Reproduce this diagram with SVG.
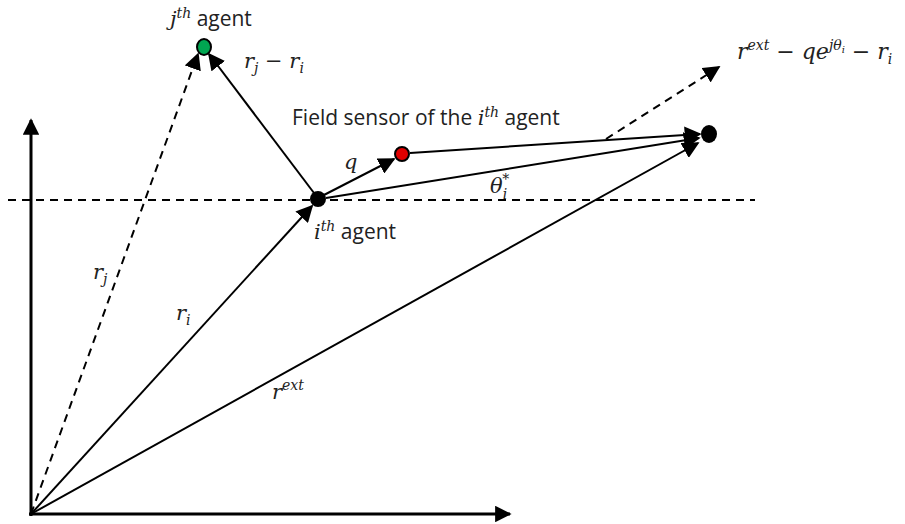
<svg xmlns="http://www.w3.org/2000/svg" width="905" height="524" viewBox="0 0 905 524">
<defs>
<marker id="ah" viewBox="0 0 10 10" refX="9" refY="5" markerWidth="5.5" markerHeight="5.5" markerUnits="strokeWidth" orient="auto">
<path d="M0,0 L10,5 L0,10 z" fill="#000"/>
</marker>
<marker id="ahb" viewBox="0 0 10 10" refX="9" refY="5" markerWidth="8.5" markerHeight="8.5" markerUnits="strokeWidth" orient="auto">
<path d="M0,0 L10,5 L0,10 z" fill="#000"/>
</marker>
</defs>
<style>
.ln{stroke:#000;stroke-width:2;fill:none}
.ax{stroke:#000;stroke-width:3;fill:none}
.da{stroke-dasharray:8,6}
.t{font-family:"Open Sans","Liberation Sans",sans-serif;font-size:21px;fill:#222}
.m{font-family:"DejaVu Serif","Liberation Serif",serif;font-style:italic;font-size:21px;fill:#222}
.s{font-size:14px}
</style>
<rect width="905" height="524" fill="#fff"/>
<g id="connectors">
<line class="ax" x1="31" y1="516" x2="31" y2="120" marker-end="url(#ah)"/>
<line class="ax" x1="29" y1="514" x2="510" y2="514" marker-end="url(#ah)"/>
<line class="ln da" x1="8" y1="200" x2="755" y2="200"/>
<line class="ln da" x1="31" y1="514" x2="198" y2="54" marker-end="url(#ahb)"/>
<line class="ln" x1="31" y1="514" x2="312" y2="206" marker-end="url(#ahb)"/>
<line class="ln" x1="31" y1="514" x2="698" y2="143" marker-end="url(#ahb)"/>
<line class="ln" x1="314" y1="193" x2="209" y2="54" marker-end="url(#ahb)"/>
<line class="ln" x1="322" y1="196" x2="394" y2="159" marker-end="url(#ahb)"/>
<line class="ln" x1="326" y1="198" x2="699" y2="138" marker-end="url(#ahb)"/>
<line class="ln" x1="410" y1="153" x2="700" y2="134" marker-end="url(#ahb)"/>
<line class="ln da" x1="606" y1="139" x2="719" y2="67" marker-end="url(#ahb)"/>
</g>
<g id="agent-j">
<ellipse cx="204" cy="47" rx="7" ry="8" fill="#00a651" stroke="#000" stroke-width="2"/>
<text x="170" y="26" class="t"><tspan class="m">j</tspan><tspan class="m s" dy="-8">th</tspan><tspan dy="8"> agent</tspan></text>
</g>
<g id="agent-i">
<ellipse cx="318" cy="199" rx="8" ry="8" fill="#000"/>
<text x="314" y="239" class="t"><tspan class="m">i</tspan><tspan class="m s" dy="-8">th</tspan><tspan dy="8"> agent</tspan></text>
</g>
<g id="sensor">
<ellipse cx="402" cy="154" rx="7" ry="7" fill="#e00000" stroke="#000" stroke-width="2"/>
<text x="292" y="125" class="t">Field sensor of the <tspan class="m">i</tspan><tspan class="m s" dy="-8">th</tspan><tspan dy="8"> agent</tspan></text>
</g>
<g id="target">
<ellipse cx="709" cy="134" rx="8" ry="9" fill="#000"/>
</g>
<g id="labels">
<text x="244" y="68" class="m">r<tspan class="s" dy="5">j</tspan><tspan dy="-5"> − r</tspan><tspan class="s" dy="5">i</tspan></text>
<text x="344" y="169" class="m">q</text>
<text x="490" y="193" class="m">θ<tspan class="s" dy="6">i</tspan><tspan class="s" dx="-5" dy="-15">*</tspan></text>
<text x="737" y="59" class="m" style="font-size:22px">r<tspan class="s" dy="-9">ext</tspan><tspan dy="9"> − qe</tspan><tspan class="s" dy="-9">jθ</tspan><tspan style="font-size:10px" dy="3">i</tspan><tspan dy="6"> − r</tspan><tspan class="s" dy="5">i</tspan></text>
<text x="93" y="279" class="m">r<tspan class="s" dy="5">j</tspan></text>
<text x="176" y="320" class="m">r<tspan class="s" dy="5">i</tspan></text>
<text x="272" y="399" class="m">r<tspan class="s" dy="-9">ext</tspan></text>
</g>
</svg>
